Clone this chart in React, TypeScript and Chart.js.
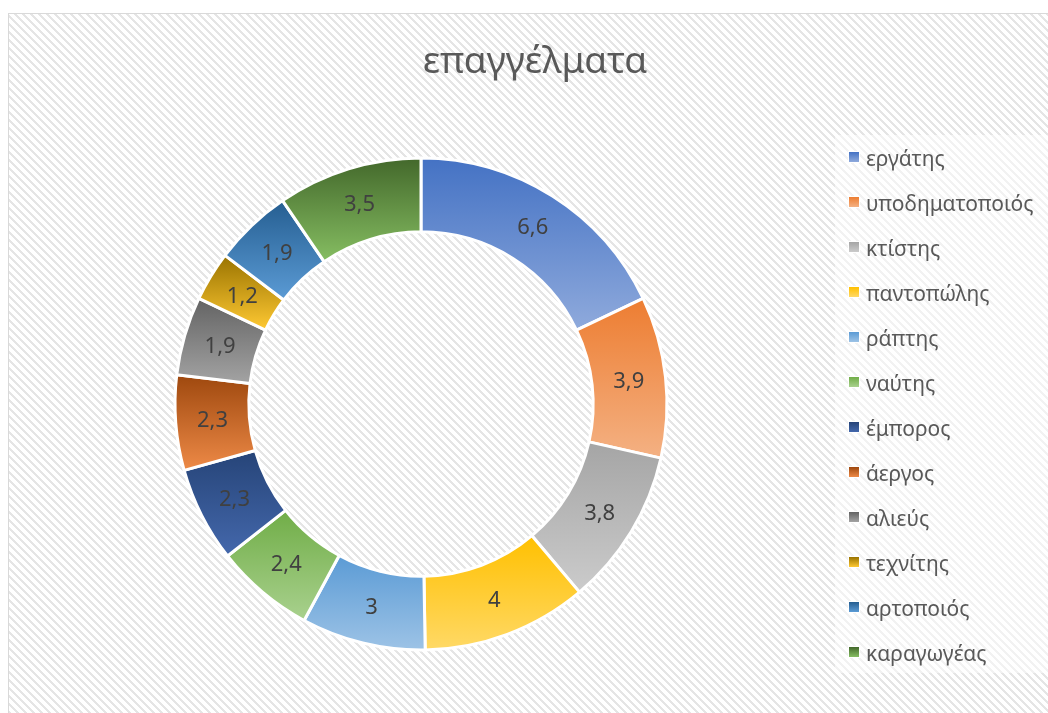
import React, { useEffect, useRef } from "react";
import { Chart, registerables } from "chart.js";

Chart.register(...registerables);

const TITLE = "επαγγέλματα";
const categories = [
  "εργάτης",
  "υποδηματοποιός",
  "κτίστης",
  "παντοπώλης",
  "ράπτης",
  "ναύτης",
  "έμπορος",
  "άεργος",
  "αλιεύς",
  "τεχνίτης",
  "αρτοποιός",
  "καραγωγέας",
];
const values = [6.6, 3.9, 3.8, 4, 3, 2.4, 2.3, 2.3, 1.9, 1.2, 1.9, 3.5];
const topColors = [
  "#4472C4", "#ED7D31", "#A5A5A5", "#FFC000", "#5B9BD5", "#70AD47",
  "#264478", "#9E480E", "#636363", "#997300", "#255E91", "#43682B",
];
const bottomColors = [
  "#8FAADC", "#F4B183", "#CBCBCB", "#FFD966", "#9DC3E6", "#A9D18E",
  "#4468AC", "#EE8A47", "#A3A3A3", "#FFC933", "#5B9BD5", "#86BE62",
];

const FONT = "'Noto Sans', 'DejaVu Sans', sans-serif";

function makePattern(ctx: CanvasRenderingContext2D) {
  const c = document.createElement("canvas");
  c.width = 8;
  c.height = 8;
  const p = c.getContext("2d")!;
  const img = p.createImageData(8, 8);
  for (let y = 0; y < 8; y++) {
    for (let x = 0; x < 8; x++) {
      const d = (((x - y) % 8) + 8) % 8;
      const on = d < 3;
      const v = on ? 0xe5 : 0xff;
      const i = (y * 8 + x) * 4;
      img.data[i] = v;
      img.data[i + 1] = v;
      img.data[i + 2] = v;
      img.data[i + 3] = 255;
    }
  }
  p.putImageData(img, 0, 0);
  return ctx.createPattern(c, "repeat");
}

const backgroundPlugin = {
  id: "bgPattern",
  beforeDraw(chart: any) {
    const ctx: CanvasRenderingContext2D = chart.ctx;
    ctx.save();
    ctx.fillStyle = "#ffffff";
    ctx.fillRect(0, 0, chart.width, chart.height);
    const pat = makePattern(ctx);
    if (pat) {
      ctx.fillStyle = pat;
      ctx.fillRect(8, 13, chart.width - 8, chart.height - 13);
    }
    ctx.strokeStyle = "#d9d9d9";
    ctx.lineWidth = 1;
    ctx.strokeRect(8.5, 13.5, chart.width + 10, chart.height + 10);
    // title
    ctx.fillStyle = "#595959";
    ctx.font = `37px ${FONT}`;
    ctx.textAlign = "center";
    ctx.textBaseline = "alphabetic";
    ctx.fillText(TITLE, 535, 73);
    ctx.restore();
  },
};

function arcYExtent(a: any) {
  const { y, startAngle, endAngle, innerRadius, outerRadius } = a.getProps(
    ["y", "startAngle", "endAngle", "innerRadius", "outerRadius"],
    true
  );
  const ys: number[] = [];
  for (const ang of [startAngle, endAngle]) {
    ys.push(y + outerRadius * Math.sin(ang));
    ys.push(y + innerRadius * Math.sin(ang));
  }
  const within = (t: number) => {
    for (let k = -2; k <= 2; k++) {
      const tt = t + k * 2 * Math.PI;
      if (tt >= startAngle && tt <= endAngle) return true;
    }
    return false;
  };
  if (within(-Math.PI / 2)) ys.push(y - outerRadius);
  if (within(Math.PI / 2)) ys.push(y + outerRadius);
  return [Math.min(...ys), Math.max(...ys)];
}

const gradientPlugin = {
  id: "sliceGradient",
  beforeDatasetsDraw(chart: any) {
    const ctx: CanvasRenderingContext2D = chart.ctx;
    const meta = chart.getDatasetMeta(0);
    meta.data.forEach((arc: any, i: number) => {
      const [y0, y1] = arcYExtent(arc);
      const g = ctx.createLinearGradient(0, y0, 0, y1);
      g.addColorStop(0, topColors[i]);
      g.addColorStop(1, bottomColors[i]);
      arc.options = Object.assign({}, arc.options, { backgroundColor: g });
    });
  },
};

const labelPlugin = {
  id: "valueLabels",
  afterDatasetsDraw(chart: any) {
    const ctx: CanvasRenderingContext2D = chart.ctx;
    const meta = chart.getDatasetMeta(0);
    ctx.save();
    ctx.fillStyle = "#404040";
    ctx.font = `22px ${FONT}`;
    ctx.textAlign = "center";
    ctx.textBaseline = "middle";
    meta.data.forEach((arc: any, i: number) => {
      const p = arc.tooltipPosition(true);
      ctx.fillText(String(values[i]).replace(".", ","), p.x, p.y + 1);
    });
    ctx.restore();
  },
};

const legendPlugin = {
  id: "customLegend",
  afterDraw(chart: any) {
    const ctx: CanvasRenderingContext2D = chart.ctx;
    ctx.save();
    ctx.fillStyle = "rgba(255,255,255,0.5)";
    ctx.fillRect(835, 135, chart.width - 835, 538);
    ctx.font = `21px ${FONT}`;
    ctx.textAlign = "left";
    ctx.textBaseline = "alphabetic";
    categories.forEach((name, i) => {
      const cy = 157 + 45 * i;
      const g = ctx.createLinearGradient(0, cy - 5, 0, cy + 5);
      g.addColorStop(0, topColors[i]);
      g.addColorStop(1, bottomColors[i]);
      ctx.fillStyle = "#ffffff";
      ctx.fillRect(848, cy - 6, 12, 12);
      ctx.fillStyle = g;
      ctx.fillRect(849, cy - 5, 10, 10);
      ctx.fillStyle = "#595959";
      ctx.fillText(name, 866, cy + 9);
    });
    ctx.restore();
  },
};

export default function App() {
  const ref = useRef<HTMLCanvasElement | null>(null);
  useEffect(() => {
    document.body.style.margin = "0";
    document.body.style.overflow = "hidden";
    if (!ref.current) return;
    const chart = new Chart(ref.current, {
      type: "doughnut",
      data: {
        labels: categories,
        datasets: [
          {
            data: values,
            backgroundColor: topColors,
            borderColor: "#ffffff",
            borderWidth: 3,
          },
        ],
      },
      options: {
        animation: false,
        responsive: false,
        maintainAspectRatio: false,
        devicePixelRatio: 1,
        radius: 246,
        cutout: "70%",
        layout: { padding: { left: 0, right: 206, top: 95, bottom: 0 } },
        plugins: {
          legend: { display: false },
          title: { display: false },
          tooltip: { enabled: false },
        },
      } as any,
      plugins: [backgroundPlugin, gradientPlugin, labelPlugin, legendPlugin],
    });
    return () => chart.destroy();
  }, []);
  return (
    <div style={{ width: 1048, height: 713 }}>
      <canvas ref={ref} width={1048} height={713} style={{ display: "block", width: 1048, height: 713 }} />
    </div>
  );
}
